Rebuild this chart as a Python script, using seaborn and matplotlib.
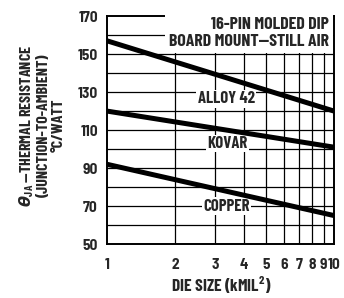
import matplotlib
matplotlib.use("Agg")
import matplotlib.pyplot as plt
import pandas as pd
import seaborn as sns

# --- data ---
die_size = [1, 10]
alloy42 = [157, 120]
kovar = [120, 101]
copper = [92, 65]
x_ticks = [1, 2, 3, 4, 5, 6, 7, 8, 9, 10]
y_ticks = [50, 70, 90, 110, 130, 150, 170]
y_grid = [60, 70, 80, 90, 100, 110, 120, 130, 140, 150, 160]

sns.set_style("white")
FONT = ["Barlow Condensed", "DejaVu Sans"]
TICK_FONT = ["Barlow Semi Condensed", "DejaVu Sans"]
plt.rcParams["font.family"] = FONT
plt.rcParams["font.weight"] = "bold"
plt.rcParams["mathtext.fontset"] = "custom"
plt.rcParams["mathtext.rm"] = "Barlow Condensed:bold"
plt.rcParams["mathtext.it"] = "DejaVu Sans:italic"
plt.rcParams["mathtext.fallback"] = "stixsans"

df = pd.DataFrame({
    "die": die_size * 3,
    "theta": alloy42 + kovar + copper,
    "metal": ["ALLOY 42"] * 2 + ["KOVAR"] * 2 + ["COPPER"] * 2,
})

fig = plt.figure(figsize=(3.44, 2.98), dpi=100)
ax = fig.add_axes([0.311, 0.181, 0.66, 0.765])

# grid
for x in x_ticks[1:-1]:
    ax.axvline(x, color="black", lw=0.9, zorder=1)
for y in y_grid:
    ax.axhline(y, color="black", lw=0.9, zorder=1)

sns.lineplot(data=df, x="die", y="theta", units="metal", estimator=None,
             color="black", linewidth=3.6, ax=ax, zorder=4, legend=False)

ax.set_xscale("log")
ax.set_xlim(1, 10)
ax.set_ylim(50, 170)
ax.set_xticks(x_ticks)
ax.set_xticklabels([str(v) for v in x_ticks])
ax.xaxis.set_minor_locator(matplotlib.ticker.NullLocator())
ax.set_yticks(y_ticks)
ax.tick_params(length=0)
ax.tick_params(axis="x", pad=10)
ax.tick_params(axis="y", pad=6.5)
for lab in ax.get_xticklabels() + ax.get_yticklabels():
    lab.set_fontweight("bold")
    lab.set_family(TICK_FONT)
    lab.set_fontsize(11)
for s in ax.spines.values():
    s.set_color("black")
    s.set_linewidth(1.4)

box = dict(facecolor="white", edgecolor="none", pad=1.0)
ax.text(3.35, 126.5, "ALLOY 42", ha="center", va="center", fontsize=12,
        fontweight="bold", bbox=box, zorder=3)
ax.text(3.38, 103, "KOVAR", ha="center", va="center", fontsize=12,
        fontweight="bold", bbox=box, zorder=3)
ax.text(3.35, 70, "COPPER", ha="center", va="center", fontsize=12,
        fontweight="bold", bbox=box, zorder=3)
ax.text(9.5, 161, "16-PIN MOLDED DIP\nBOARD MOUNT\u2014STILL AIR", ha="right",
        va="center", multialignment="right", fontsize=12.8, fontweight="bold",
        linespacing=1.15, bbox=dict(facecolor="white", edgecolor="none", pad=2.5),
        zorder=3)

ax.set_xlabel("DIE SIZE (kMIL$^2$)", fontsize=12.5, fontweight="bold")
ax.xaxis.set_label_coords(0.505, -0.135)
ax.set_ylabel("$\\theta_{\\rm JA}\\,$\u2014THERMAL RESISTANCE\n(JUNCTION-TO-AMBIENT)\n\u00b0C/WATT",
              fontsize=11.5, fontweight="bold", linespacing=1.1)
ax.yaxis.set_label_coords(-0.18, 0.52)

fig.savefig("out.png", dpi=100)
